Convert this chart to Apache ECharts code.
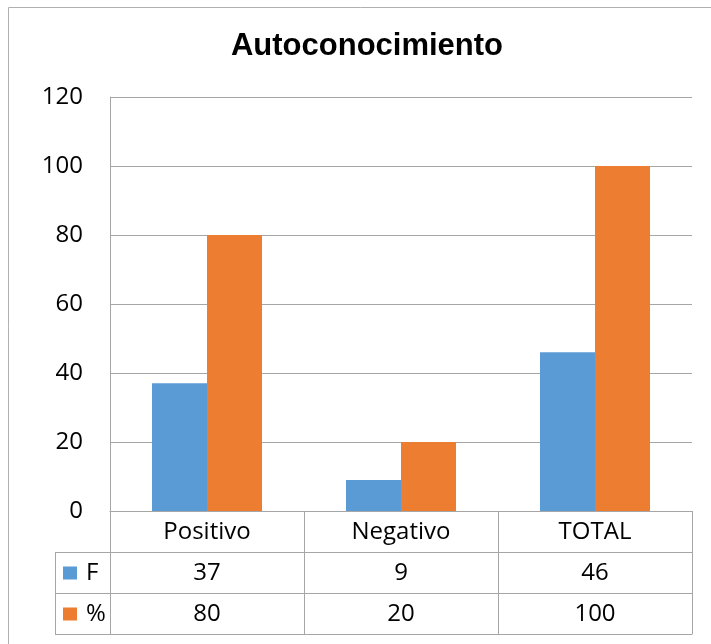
<!DOCTYPE html>
<html>
<head>
<meta charset="utf-8">
<script src="https://cdn.jsdelivr.net/npm/echarts@6/dist/echarts.min.js"></script>
<style>html,body{margin:0;padding:0;background:#fff}#c{width:711px;height:644px}</style>
</head>
<body>
<div id="c"></div>
<script>
const categories = ['Positivo', 'Negativo', 'TOTAL'];
const seriesF = [37, 9, 46];
const seriesPct = [80, 20, 100];
const yTicks = [0, 20, 40, 60, 80, 100, 120];

const GRAY = '#A6A6A6';
const FONT = '"Liberation Sans Narrow", "Open Sans", sans-serif';
const FS = 24;
const chart = echarts.init(document.getElementById('c'));

const baseX = {
  type: 'category',
  gridIndex: 0,
  position: 'bottom',
  axisLine: { show: true, lineStyle: { color: GRAY, width: 1 } },
  axisTick: { show: false },
  splitLine: { show: false },
  axisLabel: { color: '#000', fontSize: FS, fontFamily: FONT, margin: 9 }
};

const legendBase = {
  left: 63, padding: 0, orient: 'vertical', icon: 'rect', itemWidth: 14, itemHeight: 13, itemGap: 5, selectedMode: false,
  textStyle: { fontSize: FS, fontFamily: FONT, color: '#000', padding: [0, 0, 0, 4] }
};

chart.setOption({
  animation: false,
  title: {
    text: 'Autoconocimiento',
    left: 362, top: 26, textAlign: 'center',
    textStyle: { fontFamily: '"Liberation Sans", Arial, sans-serif', fontWeight: 'bold', fontSize: 31, color: '#000' }
  },
  legend: [
    Object.assign({}, legendBase, { data: ['F'], top: 561 }),
    Object.assign({}, legendBase, { data: ['%'], top: 602 })
  ],
  grid: { left: 110, right: 19, top: 97, bottom: 133, containLabel: false },
  xAxis: [
    Object.assign({}, baseX, {
      data: categories,
      axisTick: { show: true, length: 123, lineStyle: { color: GRAY, width: 1 } }
    }),
    Object.assign({}, baseX, { data: seriesF.map(String), offset: 41 }),
    Object.assign({}, baseX, { data: seriesPct.map(String), offset: 82 }),
    Object.assign({}, baseX, { data: categories, offset: 123, axisLabel: { show: false } })
  ],
  yAxis: {
    type: 'value', min: yTicks[0], max: yTicks[yTicks.length - 1], interval: yTicks[1] - yTicks[0],
    axisLine: { show: true, lineStyle: { color: GRAY } },
    axisTick: { show: false },
    splitLine: { show: true, lineStyle: { color: GRAY, width: 1 } },
    axisLabel: { color: '#000', fontSize: FS, fontFamily: FONT, margin: 27 }
  },
  series: [
    { name: 'F', type: 'bar', data: seriesF, barWidth: 55, barGap: '0%', itemStyle: { color: '#5B9BD5' } },
    { name: '%', type: 'bar', data: seriesPct, barWidth: 55, barGap: '0%', itemStyle: { color: '#ED7D31' } }
  ],
  graphic: [
    { type: 'rect', shape: { x: 8.5, y: 7.5, width: 900, height: 900 }, style: { fill: 'none', stroke: '#B0B0B0', lineWidth: 1 }, silent: true, z: -10 },
    { type: 'line', shape: { x1: 55.5, y1: 552, x2: 55.5, y2: 634 }, style: { stroke: GRAY, lineWidth: 1 } },
    { type: 'line', shape: { x1: 55, y1: 552.5, x2: 110, y2: 552.5 }, style: { stroke: GRAY, lineWidth: 1 } },
    { type: 'line', shape: { x1: 55, y1: 593.5, x2: 110, y2: 593.5 }, style: { stroke: GRAY, lineWidth: 1 } },
    { type: 'line', shape: { x1: 55, y1: 634.5, x2: 110, y2: 634.5 }, style: { stroke: GRAY, lineWidth: 1 } }
  ]
});
</script>
</body>
</html>
